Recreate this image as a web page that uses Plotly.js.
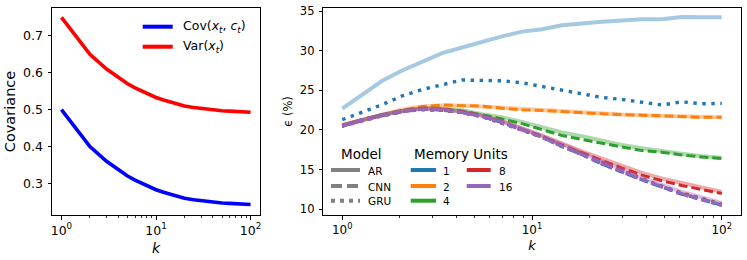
<!DOCTYPE html>
<html>
<head>
<meta charset="utf-8">
<script src="https://cdn.plot.ly/plotly-3.0.1.min.js"></script>
<style>html,body{margin:0;padding:0;background:#fff;}#chart{width:747px;height:260px;}</style>
</head>
<body>
<div id="chart"></div>
<script>
// ---- Left panel data ----
const kLeft = [1, 2, 3, 4, 5, 6, 7, 8, 10, 12, 15, 20, 25, 30, 40, 50, 60, 70, 80, 100];
const varX = [0.75, 0.65, 0.61, 0.586, 0.57, 0.559, 0.551, 0.545, 0.533, 0.526, 0.518, 0.51, 0.506, 0.503, 0.499, 0.497, 0.496, 0.495, 0.494, 0.493];
const covXC = [0.5, 0.4, 0.36, 0.336, 0.32, 0.309, 0.301, 0.295, 0.283, 0.276, 0.268, 0.26, 0.256, 0.253, 0.249, 0.247, 0.246, 0.245, 0.244, 0.243];

// ---- Right panel data ----
const kRight = [1, 1.274, 1.624, 2.069, 2.637, 3.360, 4.281, 5.456, 6.952, 8.859, 11.29, 14.38, 18.33, 23.36, 29.76, 37.93, 48.33, 61.58, 78.48, 100];
const memoryUnits = ['1', '2', '4', '8', '16'];
const models = ['AR', 'CNN', 'GRU'];
const ar1   = [22.7, 24.5, 26.2, 27.5, 28.6, 29.7, 30.4, 31.15, 31.8, 32.4, 32.7, 33.2, 33.45, 33.65, 33.8, 33.95, 33.95, 34.25, 34.2, 34.2];
const cnn1  = [20.5, 21.2, 21.8, 22.3, 22.6, 22.5, 22.2, 21.7, 20.9, 20.0, 19.1, 17.9, 16.9, 15.7, 14.7, 13.7, 12.8, 11.9, 11.2, 10.5];
const gru1  = [21.3, 22.2, 23.2, 24.3, 25.1, 25.7, 26.3, 26.25, 26.2, 25.95, 25.5, 24.95, 24.5, 24.1, 23.85, 23.55, 23.15, 23.55, 23.3, 23.35];
const ar2   = [20.6, 21.3, 22.0, 22.6, 22.95, 23.1, 23.1, 22.95, 22.8, 22.6, 22.5, 22.3, 22.2, 22.05, 21.95, 21.85, 21.8, 21.7, 21.65, 21.6];
const cnn2  = [20.5, 21.2, 21.9, 22.5, 22.95, 23.15, 23.1, 23.0, 22.75, 22.55, 22.45, 22.3, 22.15, 22.05, 21.95, 21.85, 21.78, 21.7, 21.6, 21.6];
const gru2  = [20.6, 21.3, 21.9, 22.4, 22.7, 22.6, 22.3, 21.7, 21.0, 20.1, 19.2, 18.1, 17.0, 15.9, 14.9, 13.9, 12.9, 12.1, 11.4, 10.7];
const ar4   = [20.6, 21.3, 21.9, 22.4, 22.7, 22.7, 22.5, 22.0, 21.6, 21.0, 20.3, 19.7, 19.2, 18.6, 18.1, 17.7, 17.3, 17.0, 16.7, 16.5];
const cnn4  = [20.5, 21.3, 21.9, 22.4, 22.7, 22.6, 22.4, 21.9, 21.4, 20.8, 20.0, 19.3, 18.8, 18.35, 17.85, 17.4, 17.2, 16.85, 16.6, 16.4];
const gru4  = [20.5, 21.3, 21.9, 22.4, 22.6, 22.5, 22.2, 21.7, 20.9, 20.0, 19.1, 18.0, 16.9, 15.8, 14.8, 13.8, 12.9, 12.0, 11.3, 10.6];
const ar8   = [20.6, 21.3, 21.9, 22.4, 22.7, 22.6, 22.3, 21.8, 21.1, 20.2, 19.3, 18.3, 17.3, 16.4, 15.5, 14.6, 13.9, 13.3, 12.8, 12.2];
const cnn8  = [20.5, 21.3, 21.9, 22.4, 22.7, 22.6, 22.3, 21.8, 21.0, 20.1, 19.2, 18.1, 17.1, 16.1, 15.2, 14.3, 13.6, 13.0, 12.5, 12.0];
const gru8  = [20.5, 21.2, 21.8, 22.3, 22.6, 22.5, 22.2, 21.7, 20.9, 20.0, 19.1, 18.0, 16.9, 15.8, 14.8, 13.8, 12.9, 12.0, 11.3, 10.6];
const ar16  = [20.6, 21.3, 21.9, 22.4, 22.7, 22.6, 22.3, 21.8, 21.1, 20.2, 19.3, 18.2, 17.1, 16.0, 15.0, 14.0, 13.1, 12.2, 11.5, 10.8];
const cnn16 = [20.5, 21.3, 21.9, 22.4, 22.6, 22.6, 22.2, 21.7, 21.0, 20.1, 19.1, 18.0, 16.9, 15.8, 14.8, 13.8, 12.9, 12.0, 11.3, 10.6];
const gru16 = [20.5, 21.2, 21.8, 22.3, 22.6, 22.5, 22.2, 21.7, 20.9, 20.0, 19.1, 17.9, 16.9, 15.7, 14.7, 13.7, 12.8, 11.9, 11.2, 10.5];

const seriesByMem = {
  '1': [ar1, cnn1, gru1], '2': [ar2, cnn2, gru2], '4': [ar4, cnn4, gru4],
  '8': [ar8, cnn8, gru8], '16': [ar16, cnn16, gru16]
};
const memColors = {'1': '#1f77b4', '2': '#ff7f0e', '4': '#2ca02c', '8': '#d62728', '16': '#9467bd'};
const logTickVals = [1, 10, 100];
const logTickText = ['10<sup>0</sup>', '10<sup>1</sup>', '10<sup>2</sup>'];
const logMinorVals = [2, 3, 4, 5, 6, 7, 8, 9, 20, 30, 40, 50, 60, 70, 80, 90];

const W = 747, TOP = 8, BOT = 215;
const px = x => x / W;
const py = y => (BOT - y) / (BOT - TOP);

const traces = [];
// empty traces so the minor-tick overlay axes get a subplot
traces.push({x: [], y: [], type: 'scatter', mode: 'lines', xaxis: 'x3', yaxis: 'y', showlegend: false, hoverinfo: 'skip'});
traces.push({x: [], y: [], type: 'scatter', mode: 'lines', xaxis: 'x4', yaxis: 'y2', showlegend: false, hoverinfo: 'skip'});
traces.push({x: kLeft, y: covXC, type: 'scatter', mode: 'lines', line: {color: '#0000ff', width: 3.6}, xaxis: 'x', yaxis: 'y', showlegend: false});
traces.push({x: kLeft, y: varX, type: 'scatter', mode: 'lines', line: {color: '#ff0000', width: 3.6}, xaxis: 'x', yaxis: 'y', showlegend: false});

function rgba(hex, a) {
  const r = parseInt(hex.slice(1, 3), 16), g = parseInt(hex.slice(3, 5), 16), b = parseInt(hex.slice(5, 7), 16);
  return `rgba(${r},${g},${b},${a})`;
}
const modelStyle = {
  AR: c => ({color: rgba(c, 0.4), width: 4, dash: 'solid'}),
  CNN: c => ({color: c, width: 3, dash: '9px,4px'}),
  GRU: c => ({color: c, width: 3.4, dash: '3.4px,5.6px'})
};
memoryUnits.forEach(m => {
  models.forEach((md, i) => {
    traces.push({x: kRight, y: seriesByMem[m][i], type: 'scatter', mode: 'lines',
      line: modelStyle[md](memColors[m]), xaxis: 'x2', yaxis: 'y2', showlegend: false, name: md + ' ' + m});
  });
});

const font = {family: 'DejaVu Sans, sans-serif', color: '#000'};
const shapes = [], annotations = [];
function legLine(x0, x1, y, color, width, dash) {
  shapes.push({type: 'line', xref: 'paper', yref: 'paper', x0: px(x0), x1: px(x1), y0: py(y), y1: py(y),
    line: {color: color, width: width, dash: dash || 'solid'}});
}
function legText(x, y, text, size, anchor) {
  annotations.push({xref: 'paper', yref: 'paper', x: px(x), y: py(y), text: text, showarrow: false,
    xanchor: anchor || 'left', yanchor: 'middle', font: Object.assign({}, font, {size: size})});
}
// left legend
legLine(142.7, 172.7, 26.7, '#0000ff', 4);
legLine(142.7, 172.7, 46.7, '#ff0000', 4);
legText(181, 27, 'Cov(<i>x<sub>t</sub></i>, <i>c<sub>t</sub></i>)', 12.5);
legText(181, 47, 'Var(<i>x<sub>t</sub></i>)', 12.5);
// right legend
legText(361, 153.5, 'Model', 13.5, 'center');
legText(461.3, 153.5, 'Memory Units', 13.5, 'center');
const gray = '#808080';
legLine(331, 360, 170, gray, 4);
legLine(331, 360, 186, gray, 4, '11px,5px');
legLine(331, 360, 200.7, gray, 4, '4px,5px');
legText(366, 170.5, 'AR', 10.5);
legText(366, 186.5, 'CNN', 10.5);
legText(366, 201, 'GRU', 10.5);
const memLegPos = {'1': [410.7, 436, 441, 170], '2': [410.7, 436, 441, 186], '4': [410.7, 436, 441, 200.7],
  '8': [466.7, 490.7, 496.5, 170], '16': [466.7, 490.7, 496.5, 186]};
memoryUnits.forEach(m => {
  const p = memLegPos[m];
  legLine(p[0], p[1], p[3], memColors[m], 4);
  legText(p[2], p[3] + 0.5, m, 10.5);
});

const axBase = {showgrid: false, zeroline: false, showline: true, linecolor: '#000', linewidth: 1, mirror: true,
  ticks: 'outside', ticklen: 3.5, tickwidth: 1, tickcolor: '#000'};
const minorAxis = (over, anchor, dom) => ({overlaying: over, anchor: anchor, type: 'log', range: [-0.1, 2.1], domain: dom,
  tickvals: logMinorVals, showticklabels: false, ticks: 'outside', ticklen: 2.2, tickwidth: 0.8, tickcolor: '#000',
  showline: false, showgrid: false, zeroline: false, side: 'bottom'});
const dom1 = [px(52), px(260)], dom2 = [px(323.3), px(740.7)];
const layout = {
  width: 747, height: 260, margin: {l: 0, r: 0, t: TOP, b: 260 - BOT}, paper_bgcolor: '#fff', plot_bgcolor: '#fff',
  font: font, showlegend: false,
  xaxis: Object.assign({}, axBase, {domain: dom1, type: 'log', range: [-0.1, 2.1], anchor: 'y',
    tickvals: logTickVals, ticktext: logTickText, tickfont: {size: 12.5},
    title: {text: '<i>k</i>', font: {size: 14}, standoff: 6}}),
  yaxis: Object.assign({}, axBase, {domain: [0, 1], range: [0.2145, 0.7755], anchor: 'x',
    tickvals: [0.3, 0.4, 0.5, 0.6, 0.7], ticktext: ['0.3', '0.4', '0.5', '0.6', '0.7'], tickfont: {size: 12.5},
    ticklabelstandoff: 2, title: {text: 'Covariance', font: {size: 14.5}, standoff: 4}}),
  xaxis2: Object.assign({}, axBase, {domain: dom2, type: 'log', range: [-0.1, 2.1], anchor: 'y2',
    tickvals: logTickVals, ticktext: logTickText, tickfont: {size: 12},
    title: {text: '<i>k</i>', font: {size: 13}, standoff: 4}}),
  yaxis2: Object.assign({}, axBase, {domain: [0, 1], range: [9.28, 35.38], anchor: 'x2',
    tickvals: [10, 15, 20, 25, 30, 35], ticktext: ['10', '15', '20', '25', '30', '35'], tickfont: {size: 11.5},
    ticklabelstandoff: 2, title: {text: 'ϵ (%)', font: {size: 11.5}, standoff: 4}}),
  xaxis3: minorAxis('x', 'y', dom1),
  xaxis4: minorAxis('x2', 'y2', dom2),
  shapes: shapes, annotations: annotations
};
Plotly.newPlot('chart', traces, layout, {displayModeBar: false, staticPlot: true});
</script>
</body>
</html>
